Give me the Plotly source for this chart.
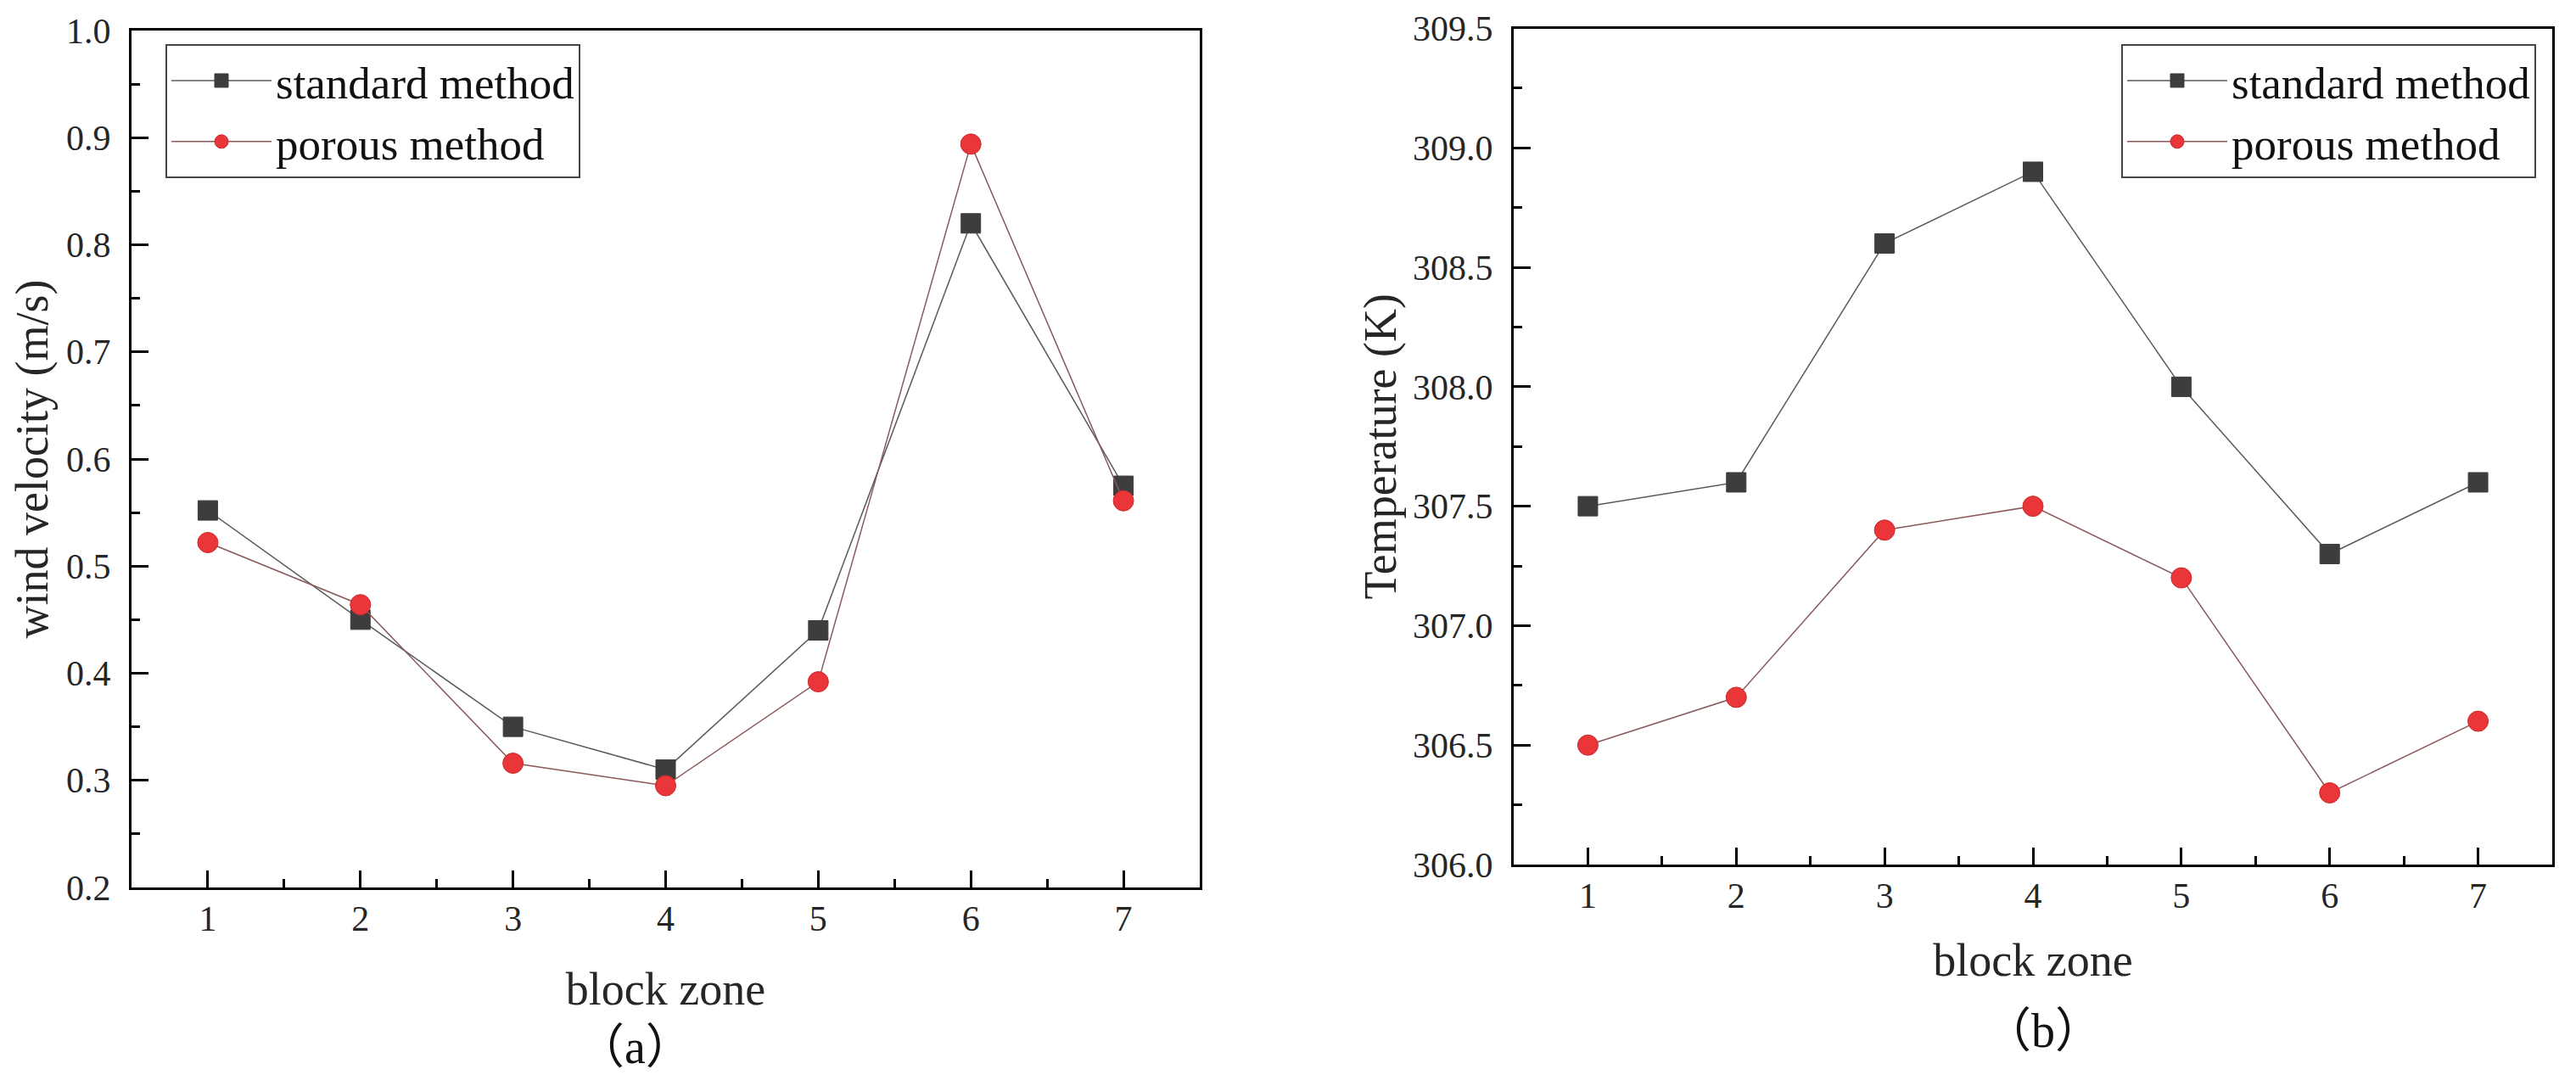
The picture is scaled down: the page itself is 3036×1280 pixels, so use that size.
import plotly.graph_objects as go

# block zones (shared x)
zones = [1, 2, 3, 4, 5, 6, 7]

# (a) wind velocity, m/s
vel_standard = [0.552, 0.450, 0.350, 0.310, 0.440, 0.820, 0.575]
vel_porous = [0.522, 0.464, 0.316, 0.295, 0.392, 0.894, 0.561]

# (b) temperature, K
temp_standard = [307.5, 307.6, 308.6, 308.9, 308.0, 307.3, 307.6]
temp_porous = [306.5, 306.7, 307.4, 307.5, 307.2, 306.3, 306.6]

# page body has an 8px margin, so the figure is a bit smaller than the window
OFF = 8
W, H = 3036 - 2 * OFF, 1280 - 2 * OFF


def px(x):
    return (x - OFF) / W


def py(y):
    return 1 - (y - OFF) / H


FONT = "Liberation Serif, Times New Roman, Noto Sans CJK SC, serif"

STD_LINE = "#5a5a5a"
STD_MARK = "#3d3d3d"
POR_LINE = "#8a5a5a"
POR_MARK = "#ea3539"

fig = go.Figure()


def add_pair(y_std, y_por, xa, ya, legend):
    fig.add_trace(go.Scatter(
        x=zones, y=y_std, mode="lines+markers", name="standard method",
        xaxis=xa, yaxis=ya, legend=legend,
        line=dict(color=STD_LINE, width=1.5),
        marker=dict(symbol="square", size=23, color=STD_MARK,
                    line=dict(color=STD_MARK, width=1)),
    ))
    fig.add_trace(go.Scatter(
        x=zones, y=y_por, mode="lines+markers", name="porous method",
        xaxis=xa, yaxis=ya, legend=legend,
        line=dict(color=POR_LINE, width=1.5),
        marker=dict(symbol="circle", size=24, color=POR_MARK,
                    line=dict(color="#c92a2e", width=1)),
    ))


add_pair(vel_standard, vel_porous, "x", "y", "legend")
add_pair(temp_standard, temp_porous, "x2", "y2", "legend2")

tickfont = dict(family=FONT, size=42, color="#262626")
titlefont = dict(family=FONT, size=54, color="#262626")

common = dict(
    showline=True, mirror=True, linecolor="black", linewidth=3,
    ticks="inside", ticklen=20, tickwidth=3, tickcolor="black",
    showgrid=False, zeroline=False, tickfont=tickfont, automargin=False,
)

xcommon = dict(common, range=[0.5, 7.5], tickmode="array", tickvals=zones,
               minor=dict(ticks="inside", ticklen=10, tickwidth=3,
                          tickcolor="black", dtick=0.5, tick0=0.5),
               ticklabelstandoff=-2)

legend_style = dict(xanchor="left", yanchor="top",
                    bgcolor="white", bordercolor="#444", borderwidth=2,
                    font=dict(family=FONT, size=53, color="#111"),
                    itemwidth=118, tracegroupgap=0)

fig.update_layout(
    width=W, height=H,
    margin=dict(l=0, r=0, t=0, b=0, autoexpand=False),
    paper_bgcolor="white", plot_bgcolor="white",
    showlegend=True,
    xaxis=dict(xcommon, domain=[px(155), px(1414)], anchor="y",
               title=dict(text="block zone", font=titlefont, standoff=41)),
    yaxis=dict(common, domain=[py(1046), py(36)], anchor="x",
               range=[0.2, 1.0], dtick=0.1, tick0=0.2, tickformat=".1f",
               minor=dict(ticks="inside", ticklen=10, tickwidth=3,
                          tickcolor="black", dtick=0.05),
               ticklabelstandoff=13,
               title=dict(text="wind velocity (m/s)", font=titlefont, standoff=10)),
    xaxis2=dict(xcommon, domain=[px(1784), px(3008)], anchor="y2",
                title=dict(text="block zone", font=titlefont, standoff=34)),
    yaxis2=dict(common, domain=[py(1019), py(33.5)], anchor="x2",
                range=[306.0, 309.5], dtick=0.5, tick0=306, tickformat=".1f",
                minor=dict(ticks="inside", ticklen=10, tickwidth=3,
                           tickcolor="black", dtick=0.25),
                ticklabelstandoff=13,
                title=dict(text="Temperature (K)", font=titlefont, standoff=3)),
    legend=dict(legend_style, x=px(195), y=py(52)),
    legend2=dict(legend_style, x=px(2500), y=py(52)),
)

# panel labels
fig.add_annotation(text="（a）", xref="paper", yref="paper", x=px(748), y=py(1234),
                   xanchor="center", yanchor="middle", showarrow=False,
                   font=dict(family=FONT, size=56, color="#111"))
fig.add_annotation(text="（b）", xref="paper", yref="paper", x=px(2408), y=py(1215),
                   xanchor="center", yanchor="middle", showarrow=False,
                   font=dict(family=FONT, size=56, color="#111"))

fig.write_html("out.html")
